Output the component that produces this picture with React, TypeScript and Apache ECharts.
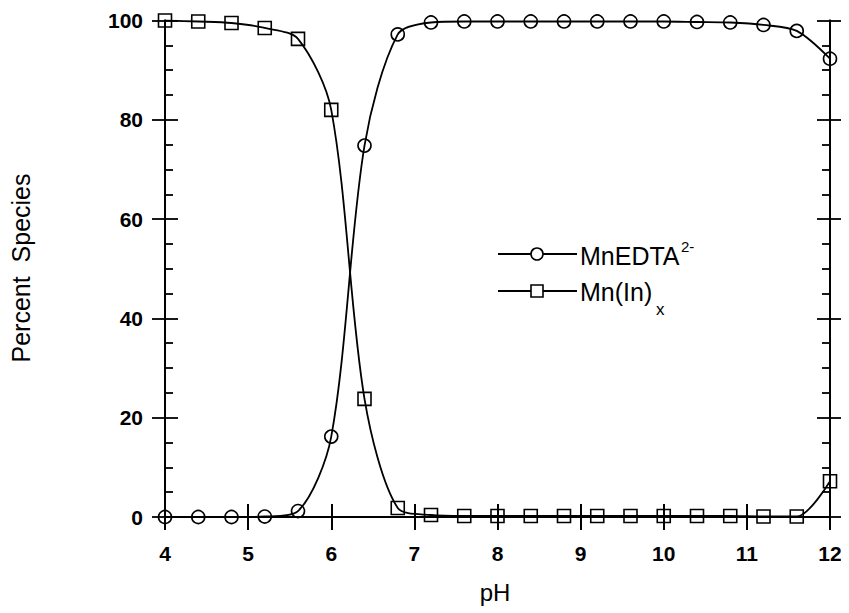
import React, { useEffect, useRef } from "react";
import * as echarts from "echarts";

const pH = [4, 4.4, 4.8, 5.2, 5.6, 6.0, 6.4, 6.8, 7.2, 7.6, 8.0, 8.4, 8.8, 9.2, 9.6, 10.0, 10.4, 10.8, 11.2, 11.6, 12.0];
const mnEDTA = [0, 0, 0, 0.1, 1.2, 16.2, 74.8, 97.2, 99.6, 99.8, 99.8, 99.8, 99.8, 99.8, 99.8, 99.8, 99.7, 99.6, 99.1, 97.9, 92.3];
const mnIn = [100, 99.8, 99.5, 98.5, 96.3, 82, 23.8, 1.8, 0.4, 0.2, 0.2, 0.2, 0.2, 0.2, 0.2, 0.2, 0.2, 0.2, 0.1, 0.1, 7.2];
const xTicks = { min: 4, max: 12, interval: 1 };
const yTicks = { min: 0, max: 100, interval: 20 };

const FONT = "'Liberation Sans', Arial, Helvetica, sans-serif";
// page offset of the chart div (body margin)
const O = 8;

export default function App() {
  const ref = useRef<HTMLDivElement>(null);
  useEffect(() => {
    if (!ref.current) return;
    const chart = echarts.init(ref.current, undefined, { renderer: "svg" });
    const line = { show: true, lineStyle: { color: "#000", width: 2 } };
    const tickStyle = { color: "#000", width: 1.8 };
    const mkX = (pos: string, inside: boolean, labels: boolean) => ({
      type: "value",
      position: pos,
      ...xTicks,
      axisLine: line,
      axisTick: { show: true, inside, length: 13, lineStyle: tickStyle },
      axisLabel: {
        show: labels,
        color: "#000",
        fontSize: 21,
        fontWeight: "bold",
        fontFamily: FONT,
        margin: 26,
      },
      splitLine: { show: false },
    });
    const mkY = (pos: string, inside: boolean, labels: boolean) => ({
      type: "value",
      position: pos,
      ...yTicks,
      axisLine: line,
      axisTick: { show: true, inside, length: 13, lineStyle: tickStyle },
      minorTick: { show: inside, splitNumber: 4, length: 8, lineStyle: tickStyle },
      axisLabel: {
        show: labels,
        color: "#000",
        fontSize: 21,
        fontWeight: "bold",
        fontFamily: FONT,
        margin: 22,
      },
      splitLine: { show: false },
      minorSplitLine: { show: false },
    });
    const symStyle = { color: "rgba(255,255,255,0)", borderColor: "#000", borderWidth: 1.6 };
    chart.setOption({
      animation: false,
      backgroundColor: "#fff",
      grid: { left: 165 - O, right: 841 - (830 - O), top: 20.5 - O, bottom: 605 - (517 - O) },
      xAxis: [
        mkX("bottom", false, true),
        mkX("bottom", true, false),
        mkX("top", false, false),
        mkX("top", true, false),
      ],
      yAxis: [
        mkY("left", false, true),
        mkY("left", true, false),
        mkY("right", false, false),
        mkY("right", true, false),
      ],
      series: [
        {
          name: "MnEDTA",
          type: "line",
          data: pH.map((x, i) => [x, mnEDTA[i]]),
          smooth: 0.3,
          symbol: "circle",
          symbolSize: 13,
          itemStyle: symStyle,
          lineStyle: { color: "#000", width: 1.8 },
        },
        {
          name: "Mn(In)x",
          type: "line",
          data: pH.map((x, i) => [x, mnIn[i]]),
          smooth: 0.3,
          symbol: "rect",
          symbolSize: 13,
          itemStyle: symStyle,
          lineStyle: { color: "#000", width: 1.8 },
        },
      ],
      graphic: [
        {
          type: "text",
          x: 21 - O,
          y: 268 - O,
          rotation: Math.PI / 2,
          style: {
            text: "Percent  Species",
            fill: "#000",
            font: `25px ${FONT}`,
            align: "center",
            verticalAlign: "middle",
          },
        },
        {
          type: "text",
          x: 495 - O,
          y: 592 - O,
          style: { text: "pH", fill: "#000", font: `24px ${FONT}`, align: "center", verticalAlign: "middle" },
        },
        { type: "line", shape: { x1: 498 - O, y1: 254 - O, x2: 577 - O, y2: 254 - O }, style: { stroke: "#000", lineWidth: 1.8 } },
        { type: "circle", shape: { cx: 537 - O, cy: 254 - O, r: 6 }, style: { fill: "#fff", stroke: "#000", lineWidth: 1.6 } },
        {
          type: "text",
          x: 580 - O,
          y: 256 - O,
          style: { text: "MnEDTA", fill: "#000", font: `25px ${FONT}`, verticalAlign: "middle" },
        },
        {
          type: "text",
          x: 681 - O,
          y: 246 - O,
          style: { text: "2-", fill: "#000", font: `15px ${FONT}`, verticalAlign: "middle" },
        },
        { type: "line", shape: { x1: 498 - O, y1: 291 - O, x2: 577 - O, y2: 291 - O }, style: { stroke: "#000", lineWidth: 1.8 } },
        { type: "rect", shape: { x: 531 - O, y: 285 - O, width: 12, height: 12 }, style: { fill: "#fff", stroke: "#000", lineWidth: 1.6 } },
        {
          type: "text",
          x: 580 - O,
          y: 292 - O,
          style: { text: "Mn(In)", fill: "#000", font: `25px ${FONT}`, verticalAlign: "middle" },
        },
        {
          type: "text",
          x: 656 - O,
          y: 309 - O,
          style: { text: "x", fill: "#000", font: `17px ${FONT}`, verticalAlign: "middle" },
        },
      ],
    });
    return () => chart.dispose();
  }, []);
  return <div ref={ref} style={{ width: 841, height: 605 }} />;
}
